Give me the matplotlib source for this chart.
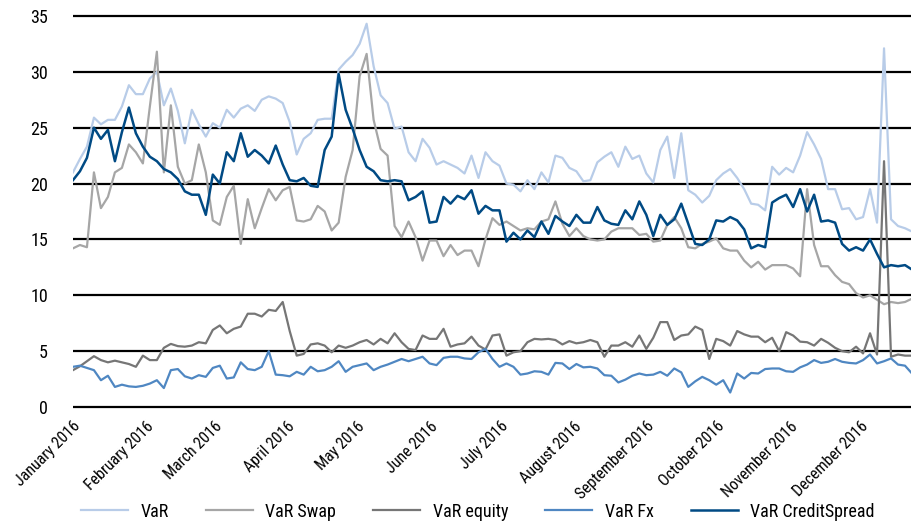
import pandas as pd
import matplotlib
matplotlib.use('Agg')
import matplotlib.pyplot as plt
import matplotlib.dates as mdates
from matplotlib import font_manager as fm

# the original uses a condensed sans; take the narrowest one that is installed
FONT = 'Roboto'
NARROW = False
for name in ['Liberation Sans Narrow', 'DejaVu Sans Condensed', 'Roboto Condensed', 'Open Sans Condensed']:
    try:
        fm.findfont(fm.FontProperties(family=name), fallback_to_default=False)
        FONT = name
        NARROW = True
        break
    except ValueError:
        pass
plt.rcParams['font.family'] = [FONT, 'DejaVu Sans']
BIG = 13 if NARROW else 12
SMALL = 11.5 if NARROW else 10

START = '2016-01-01'
END = '2016-12-23'

# values, roughly every 3 calendar days
var = [21.0, 22.2, 23.3, 25.9, 25.3, 25.7, 25.7, 26.9, 28.8, 28.0, 28.0, 29.4, 30.0, 27.0, 28.5, 26.5,
       23.6, 26.6, 25.3, 24.2, 25.4, 25.0, 26.6, 25.9, 26.7, 27.0, 26.5, 27.5, 27.8, 27.6, 27.2,
       25.5, 22.6, 24.0, 24.5, 25.7, 25.8, 25.8, 30.2, 30.9, 31.5, 32.5, 34.3, 30.5, 27.9, 27.2,
       24.9, 25.1, 22.8, 22.0, 24.0, 23.2, 21.7, 22.0, 21.7, 21.4, 20.9, 22.5, 20.5, 22.8, 22.0,
       21.6, 20.0, 19.9, 19.3, 20.3, 19.5, 21.0, 20.1, 22.5, 22.3, 21.4, 21.1, 20.2, 20.3, 21.9,
       22.4, 22.8, 21.5, 23.3, 22.2, 22.5, 20.9, 20.1, 23.0, 24.2, 20.5, 24.5, 19.4, 19.0, 18.3,
       18.9, 20.3, 20.9, 21.3, 20.5, 19.5, 18.2, 18.1, 17.6, 21.5, 20.8, 21.4, 21.0, 22.5, 24.6,
       23.5, 22.2, 19.5, 19.5, 17.7, 17.8, 16.8, 17.0, 19.5, 16.5, 32.1, 16.8, 16.2, 16.0, 15.7]

var_swap = [14.2, 14.5, 14.3, 21.0, 17.8, 18.8, 21.0, 21.4, 23.5, 22.8, 21.8, 26.9, 31.8, 21.0, 27.0, 21.5,
            20.0, 20.3, 23.5, 21.0, 16.7, 16.3, 18.8, 19.8, 14.6, 18.6, 16.0, 17.8, 19.5, 18.5, 19.4,
            19.7, 16.7, 16.6, 16.8, 18.0, 17.5, 15.8, 16.5, 20.6, 23.0, 29.6, 31.6, 25.7, 23.1, 22.5,
            16.2, 15.2, 16.6, 15.2, 13.1, 14.9, 14.9, 13.5, 14.5, 13.6, 14.0, 14.0, 12.6, 15.0, 16.9,
            16.3, 16.6, 16.2, 15.8, 16.0, 15.9, 16.6, 16.8, 18.4, 16.4, 15.3, 16.0, 15.3, 15.0, 14.9,
            15.0, 15.7, 16.0, 16.0, 16.0, 15.4, 15.5, 14.8, 14.9, 16.3, 17.0, 16.0, 14.3, 14.2, 14.6,
            14.8, 15.1, 14.2, 14.0, 14.0, 13.1, 12.5, 13.0, 12.3, 12.7, 12.7, 12.7, 12.4, 11.7, 19.5,
            14.5, 12.6, 12.6, 11.8, 11.2, 11.0, 10.2, 9.8, 10.0, 9.6, 9.2, 9.4, 9.3, 9.4, 9.7]

var_equity = [3.3, 3.65, 4.1, 4.55, 4.2, 4.0, 4.15, 4.0, 3.85, 3.6, 4.6, 4.2, 4.2, 5.3, 5.65, 5.45,
              5.4, 5.5, 5.8, 5.7, 6.9, 7.3, 6.6, 7.0, 7.2, 8.35, 8.35, 8.1, 8.7, 8.6, 9.4,
              6.8, 4.6, 4.75, 5.6, 5.7, 5.5, 4.9, 5.5, 5.3, 5.5, 5.8, 6.0, 5.6, 6.1, 5.7,
              6.6, 5.8, 5.2, 5.1, 6.4, 6.1, 6.1, 7.0, 5.4, 5.6, 5.7, 6.3, 5.5, 5.15, 6.4,
              6.5, 4.6, 4.9, 5.0, 5.8, 6.1, 6.05, 6.1, 6.0, 5.6, 5.9, 5.7, 5.8, 6.0, 5.8,
              4.5, 5.5, 5.5, 5.8, 5.4, 6.4, 5.2, 6.2, 7.6, 7.6, 6.0, 6.4, 6.5, 7.2, 6.9,
              4.3, 6.1, 5.9, 5.5, 6.8, 6.5, 6.3, 6.3, 5.8, 6.2, 5.0, 6.7, 6.4, 5.85, 5.8,
              5.5, 6.1, 5.75, 5.3, 5.0, 4.9, 5.4, 4.8, 6.6, 4.7, 22.0, 4.5, 4.7, 4.6, 4.6]

var_fx = [3.6, 3.7, 3.5, 3.3, 2.4, 2.8, 1.8, 2.0, 1.85, 1.8, 1.9, 2.1, 2.4, 1.7, 3.3, 3.4,
          2.75, 2.55, 2.85, 2.7, 3.5, 3.7, 2.55, 2.65, 4.0, 3.4, 3.3, 3.6, 5.0, 2.9, 2.85,
          2.75, 3.15, 2.9, 3.6, 3.2, 3.3, 3.6, 4.1, 3.15, 3.6, 3.75, 3.9, 3.3, 3.6, 3.8,
          4.05, 4.3, 4.1, 4.3, 4.5, 3.9, 3.75, 4.4, 4.5, 4.5, 4.35, 4.3, 4.9, 5.2, 4.3,
          3.6, 3.9, 3.6, 2.9, 3.0, 3.2, 3.15, 2.9, 3.95, 3.9, 3.4, 3.85, 3.55, 3.6, 3.45,
          2.85, 2.8, 2.2, 2.45, 2.8, 3.0, 2.85, 2.9, 3.15, 2.8, 3.45, 3.1, 1.8, 2.3, 2.7,
          2.4, 2.0, 2.4, 1.3, 3.0, 2.55, 3.05, 3.0, 3.4, 3.45, 3.45, 3.2, 3.15, 3.55, 3.8,
          4.2, 3.95, 4.05, 4.3, 4.05, 3.95, 3.9, 4.2, 4.7, 3.9, 4.1, 4.35, 3.8, 3.7, 3.0]

var_credit = [20.3, 21.1, 22.3, 25.0, 24.0, 24.8, 22.0, 24.6, 26.8, 24.5, 23.3, 22.4, 22.0, 21.3, 21.0, 20.4,
              19.3, 19.0, 19.0, 17.2, 20.8, 20.0, 22.8, 22.0, 24.5, 22.4, 23.0, 22.5, 21.8, 23.4, 21.7,
              20.3, 20.2, 20.5, 19.8, 19.7, 23.0, 24.2, 29.8, 26.6, 24.9, 23.0, 21.5, 21.1, 20.3, 20.2,
              20.3, 20.2, 18.5, 18.8, 19.3, 16.5, 16.6, 18.8, 18.2, 18.9, 18.6, 19.4, 17.3, 18.0, 17.6,
              17.6, 14.8, 15.6, 15.0, 15.8, 15.2, 16.6, 15.5, 17.1, 16.6, 16.2, 17.2, 16.5, 16.5, 17.9,
              16.7, 16.4, 16.3, 17.6, 16.8, 18.4, 17.2, 15.3, 17.2, 16.3, 16.8, 18.2, 16.4, 14.6, 14.5,
              15.0, 16.7, 16.6, 17.0, 16.7, 15.9, 14.2, 14.5, 14.3, 18.3, 18.7, 19.0, 17.9, 19.5, 17.5,
              19.0, 16.6, 16.7, 16.5, 14.6, 14.0, 14.3, 14.0, 15.0, 13.7, 12.5, 12.7, 12.6, 12.7, 12.3]

series = [
    ('VaR', var, '#b8cce8', 1.6),
    ('VaR Swap', var_swap, '#a6a6a6', 1.6),
    ('VaR equity', var_equity, '#767676', 1.6),
    ('VaR Fx', var_fx, '#4f87c2', 1.6),
    ('VaR CreditSpread', var_credit, '#004a84', 1.8),
]

fig = plt.figure(figsize=(9.12, 5.26), dpi=100)
ax = fig.add_axes([0.080, 0.2198, 0.920, 0.7563])

for name, values, color, lw in series:
    dates = pd.date_range(START, END, periods=len(values))
    ax.plot(dates, values, color=color, lw=lw, label=name)

ax.set_xlim(pd.Timestamp(START), pd.Timestamp(END))
ax.set_ylim(-0.3, 35.3)
ax.set_yticks(range(0, 36, 5))
ax.yaxis.grid(True, color='black', lw=1.6)
ax.set_axisbelow(True)
for s in ax.spines.values():
    s.set_visible(False)
ax.tick_params(axis='both', length=0)
ax.tick_params(axis='y', labelsize=BIG, pad=18)

ax.xaxis.set_major_locator(mdates.MonthLocator())
ax.xaxis.set_major_formatter(mdates.DateFormatter('%B %Y'))
for lab in ax.get_xticklabels():
    lab.set_rotation(45)
    lab.set_ha('right')
    lab.set_rotation_mode('anchor')
    lab.set_fontsize(SMALL)
ax.tick_params(axis='x', pad=6)

fig.legend(loc='center', bbox_to_anchor=(0.524, 0.027), ncol=5, frameon=False,
           fontsize=BIG, handlelength=2.6, handletextpad=0.7, columnspacing=2.05)

fig.savefig('out.png', dpi=100)
